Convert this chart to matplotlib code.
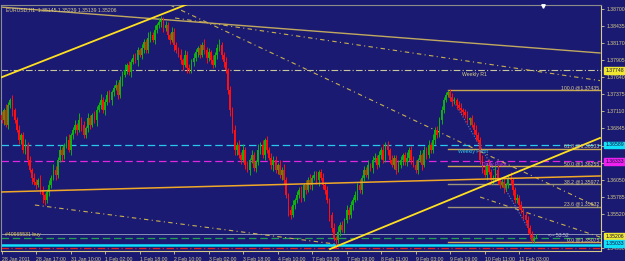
import matplotlib
matplotlib.use("Agg")
import matplotlib.pyplot as plt
from matplotlib import font_manager

# EURUSD H1 candles, 28 Jan 2011 .. 11 Feb 2011
first_open = 1.3705
closes = [
    1.3698, 1.3713, 1.3690, 1.3721, 1.3729,
    1.3713, 1.3698, 1.3682, 1.3667, 1.3674, 1.3651,
    1.3659, 1.3636, 1.3620, 1.3608, 1.3601,
    1.3597, 1.3604, 1.3589, 1.3581, 1.3573, 1.3586, 1.3597,
    1.3608, 1.3620, 1.3612, 1.3636, 1.3651, 1.3643,
    1.3659, 1.3667, 1.3651, 1.3674, 1.3682, 1.3690,
    1.3682, 1.3698, 1.3690, 1.3674, 1.3685, 1.3700,
    1.3690, 1.3705, 1.3698, 1.3713, 1.3721, 1.3729,
    1.3713, 1.3726, 1.3737, 1.3729, 1.3741, 1.3747,
    1.3752, 1.3737, 1.3760, 1.3768, 1.3775, 1.3783,
    1.3772, 1.3788, 1.3794, 1.3791, 1.3806, 1.3799,
    1.3809, 1.3819, 1.3806, 1.3825, 1.3830, 1.3822,
    1.3837, 1.3845, 1.3850, 1.3853, 1.3840,
    1.3845, 1.3830, 1.3822, 1.3834, 1.3814, 1.3806, 1.3799,
    1.3791, 1.3783, 1.3799, 1.3778, 1.3775, 1.3788, 1.3794,
    1.3803, 1.3809, 1.3799, 1.3814, 1.3806, 1.3794, 1.3803,
    1.3791, 1.3783, 1.3799, 1.3809, 1.3814, 1.3799, 1.3788, 1.3775,
    1.3744, 1.3713, 1.3682, 1.3651, 1.3659, 1.3643,
    1.3636, 1.3651, 1.3628, 1.3620, 1.3636, 1.3643, 1.3623, 1.3632,
    1.3651, 1.3659, 1.3643, 1.3667, 1.3651, 1.3639, 1.3628,
    1.3636, 1.3620, 1.3628, 1.3612, 1.3620, 1.3604,
    1.3581, 1.3558, 1.3550, 1.3566, 1.3573,
    1.3581, 1.3589, 1.3577, 1.3597, 1.3589, 1.3604,
    1.3597, 1.3608, 1.3612, 1.3604, 1.3617, 1.3608,
    1.3597, 1.3589, 1.3573, 1.3550, 1.3530,
    1.3514, 1.3511, 1.3524, 1.3535, 1.3527,
    1.3542, 1.3558, 1.3550, 1.3566, 1.3573, 1.3581,
    1.3597, 1.3589, 1.3608, 1.3620, 1.3612, 1.3628,
    1.3623, 1.3636, 1.3639, 1.3628, 1.3643, 1.3651, 1.3636,
    1.3659, 1.3651, 1.3636, 1.3628, 1.3639, 1.3620,
    1.3628, 1.3636, 1.3643, 1.3632, 1.3639, 1.3651, 1.3636,
    1.3628, 1.3620, 1.3636, 1.3643, 1.3628, 1.3651,
    1.3643, 1.3659, 1.3651, 1.3667, 1.3682, 1.3674,
    1.3698, 1.3713, 1.3729, 1.3737, 1.3741,
    1.3732, 1.3726, 1.3729, 1.3721, 1.3716, 1.3713, 1.3710,
    1.3705, 1.3698, 1.3700, 1.3690, 1.3682, 1.3674, 1.3667,
    1.3636, 1.3620, 1.3612, 1.3628, 1.3617, 1.3604,
    1.3608, 1.3620, 1.3604, 1.3597, 1.3601, 1.3592,
    1.3597, 1.3608, 1.3604, 1.3589, 1.3573, 1.3577, 1.3566,
    1.3558, 1.3550, 1.3542, 1.3530, 1.3519, 1.3510, 1.35145, 1.35206,
]
# wick lengths above / below the body, in pips
upper_wick = [
    6, 4, 9, 5, 3, 7, 4, 5, 8, 3,
    5, 9, 4, 6, 3, 7, 5, 4, 8, 6,
    3, 5, 7, 4, 10, 6, 4, 8, 5, 3,
    6, 9, 4, 5, 7, 3, 11, 5, 6, 4,
    8, 5, 3, 7, 6, 4, 9, 5, 4, 6,
    7, 3, 5, 8, 4, 6, 5, 9, 3, 7,
    4, 6, 8, 5, 3, 7, 5, 4, 9, 6,
    5, 8, 4, 6, 6, 4, 7, 5, 3, 8,
    6, 4, 5, 9, 3, 7, 5, 6, 4, 8,
    5, 3, 7, 4, 9, 5, 6, 3, 8, 4,
    6, 10, 5, 4, 7, 3, 6, 5, 8, 4,
    7, 5, 9, 4, 6, 3, 8, 5, 4, 10,
    5, 7, 3, 6, 4, 8, 5, 6, 3, 7,
    4, 9, 5, 3, 6, 8, 4, 7, 5, 6,
    3, 8, 5, 9, 4, 6, 7, 3, 5, 8,
    4, 6, 3, 5, 7, 4, 9, 5, 6, 3,
    8, 4, 6, 5, 7, 3, 9, 4, 6, 5,
    7, 3, 5, 8, 4, 6, 5, 9, 4, 6,
    3, 7, 5, 4, 8, 6, 3, 5, 9, 4,
    6, 5, 7, 3, 8, 4, 6, 5, 7, 4,
    9, 5, 6, 4, 7, 5, 4, 2.5, 4, 7,
    5, 3, 6, 8, 4, 5, 7, 3, 6, 4,
    8, 5, 4, 7, 6, 3, 9, 5, 4, 6,
    7, 4, 5, 8, 3, 6, 9, 4, 5, 6,
    4, 6, 3, 5, 7, 4, 6, 3, 0.3,
]
lower_wick = [
    5, 8, 3, 6, 4, 9, 5, 3, 7, 6,
    4, 6, 8, 3, 9, 5, 7, 4, 6, 12,
    8, 4, 6, 5, 3, 7, 5, 4, 9, 6,
    5, 3, 7, 6, 4, 8, 3, 9, 5, 4,
    6, 7, 4, 5, 9, 3, 6, 4, 8, 5,
    4, 8, 6, 3, 7, 5, 9, 4, 6, 5,
    7, 4, 5, 9, 3, 6, 8, 4, 5, 7,
    3, 6, 5, 4, 8, 5, 4, 7, 6, 3,
    9, 5, 4, 6, 7, 3, 8, 5, 4, 6,
    4, 7, 5, 3, 6, 8, 4, 6, 5, 3,
    7, 4, 6, 8, 5, 6, 9, 5, 7, 8,
    5, 6, 4, 7, 3, 8, 5, 4, 6, 5,
    6, 4, 8, 5, 3, 6, 9, 4, 7, 5,
    8, 5, 4, 10, 6, 3, 7, 5, 4, 6,
    5, 7, 3, 6, 8, 4, 5, 9, 3, 6,
    7, 4, 9, 6, 5, 12, 4, 6, 3, 5,
    4, 6, 5, 8, 3, 7, 4, 6, 5, 3,
    6, 5, 8, 4, 7, 3, 6, 5, 4, 8,
    5, 4, 6, 7, 3, 5, 8, 4, 6, 5,
    7, 3, 5, 6, 4, 8, 3, 6, 5, 4,
    5, 6, 4, 3, 6, 5, 4, 3, 5, 6,
    4, 7, 3, 5, 6, 4, 5, 8, 3, 6,
    9, 4, 6, 5, 3, 7, 4, 6, 5, 4,
    6, 5, 3, 7, 4, 5, 6, 8, 4, 5,
    7, 5, 6, 4, 8, 3, 2.5, 4, 0.6,
]

time_labels = ["28 Jan 2011", "28 Jan 17:00", "31 Jan 10:00", "1 Feb 02:00",
               "1 Feb 18:00", "2 Feb 10:00", "3 Feb 02:00", "3 Feb 18:00",
               "4 Feb 10:00", "7 Feb 03:00", "7 Feb 19:00", "8 Feb 11:00",
               "9 Feb 03:00", "9 Feb 19:00", "10 Feb 11:00", "11 Feb 03:00"]
label_step = 16
price_ticks = [1.38700, 1.38435, 1.38170, 1.37905, 1.37640, 1.37375, 1.37110,
               1.36845, 1.36580, 1.36315, 1.36050, 1.35785, 1.35520, 1.35255, 1.34990]
# scale labels hidden under the coloured price boxes
hidden_ticks = [1.36580, 1.36315, 1.35255]

# horizontal levels
weekly_r1 = 1.37748
weekly_pivot = 1.36589
daily_pivot = 1.36333
bid_price = 1.35206
buy_order = 1.3514
cyan_level = 1.35033
red_level = 1.3499

# fibonacci retracement
fib_high = 1.37435
fib_low = 1.35075
fib_start_bar = 207
fib_levels = [100.0, 61.8, 50.0, 38.2, 23.6, 0.0]

# trend lines: (bar0, price0, bar1, price1)
trend_yellow_top = (-0.8, 1.3763, 87.3, 1.3879)
trend_tan_top = (-0.8, 1.38731, 277.5, 1.38017)
trend_dash_steep = (78.1, 1.38762, 277.5, 1.35610)
trend_dash_shallow = (80.4, 1.38560, 277.5, 1.37588)
trend_orange = (-0.8, 1.35858, 277.5, 1.36107)
trend_yellow_bottom = (152.3, 1.34973, 277.5, 1.36697)
trend_dash_low = (15.4, 1.35656, 154.6, 1.35050)
trend_dash_right = (221.9, 1.35780, 277.5, 1.35159)
trend_dotted = (208.0, 1.37365, 247.4, 1.35113)

BG = "#1a1a72"
AXC = "#d8cc8a"

names = {f.name for f in font_manager.fontManager.ttflist}
if "Liberation Sans Narrow" in names:
    FONT, FS = "Liberation Sans Narrow", 4.3
else:
    FONT, FS = "Liberation Sans", 3.7

opens = [first_open] + closes[:-1]
n = len(closes)
highs = [max(o, c) + u * 0.0001 for o, c, u in zip(opens, closes, upper_wick)]
lows = [min(o, c) - d * 0.0001 for o, c, d in zip(opens, closes, lower_wick)]

fig = plt.figure(figsize=(6.25, 2.61), dpi=100, facecolor=BG)
ax = fig.add_axes([1 / 625, 10 / 261, 600 / 625, 246 / 261], facecolor=BG)
ax.set_xlim(-0.32, 277.97)
ax.set_ylim(1.34942, 1.38762)

# horizontal levels
ax.axhline(weekly_r1, color="#c8c4a0", lw=0.8, ls=(0, (6, 2, 1, 2)), zorder=1)
ax.axhline(weekly_pivot, color="#28c8f0", lw=0.9, ls=(0, (6, 3)), zorder=1)
ax.axhline(daily_pivot, color="#e028e0", lw=0.9, ls=(0, (6, 3)), zorder=1)
ax.axhline(bid_price, color="#8890b8", lw=0.7, zorder=1)
ax.axhline(buy_order, color="#20a050", lw=0.9, ls=(0, (6, 3)), zorder=1)
ax.axhline(cyan_level, color="#10e0ff", lw=1.8, zorder=1)
ax.axhline(red_level, color="#e02020", lw=0.9, ls=(0, (6, 2, 1, 2)), zorder=1)

# fibonacci
for lev in fib_levels:
    p = fib_low + (fib_high - fib_low) * lev / 100
    col = "#a09478" if lev in (38.2, 23.6) else "#c8a850"
    ax.plot([fib_start_bar, 277.97], [p, p], color=col, lw=1, zorder=2)
    ax.text(277.0, p + 0.00008, f"{lev:.1f} @{p:.5f}", color="#d8c890",
            fontsize=FS, family=FONT, ha="right", va="bottom", zorder=5)

# trend lines
def tline(t, **kw):
    ax.plot([t[0], t[2]], [t[1], t[3]], **kw)

tline(trend_tan_top, color="#c0a860", lw=1, zorder=2)
tline(trend_dash_steep, color="#c8b050", lw=0.8, ls=(0, (4, 3, 1, 3)), zorder=2)
tline(trend_dash_shallow, color="#c8b050", lw=0.8, ls=(0, (4, 3, 1, 3)), zorder=2)
tline(trend_dash_low, color="#c8b050", lw=0.8, ls=(0, (4, 3, 1, 3)), zorder=2)
tline(trend_dash_right, color="#c8b050", lw=0.8, ls=(0, (4, 3, 1, 3)), zorder=2)
tline(trend_dotted, color="#6a7ab8", lw=0.8, ls=(0, (1, 1.5)), zorder=2)
tline(trend_orange, color="#f0a828", lw=1.1, zorder=4)
tline(trend_yellow_top, color="#ffe020", lw=1.3, zorder=4)
tline(trend_yellow_bottom, color="#ffe020", lw=1.3, zorder=4)

# candles
x = list(range(n))
cols = ["#10b010" if c >= o else "#ff1010" for o, c in zip(opens, closes)]
ax.vlines(x, lows, highs, colors=cols, lw=0.7, zorder=3)
bottoms = [min(o, c) for o, c in zip(opens, closes)]
heights = [max(abs(c - o), 0.00004) for o, c in zip(opens, closes)]
ax.bar(x, heights, bottom=bottoms, width=0.8, color=cols, lw=0, zorder=3)

# texts
ax.text(2, 1.38690, "EURUSD,H1  1.35145 1.35239 1.35139 1.35206", color=AXC,
        fontsize=FS, family=FONT, ha="left", va="center", zorder=6)
ax.text(213.5, 1.37685, "Weekly R1", color="#d8cc8a", fontsize=FS, family=FONT,
        ha="left", va="center", zorder=6)
ax.text(211.6, 1.36490, "Weekly Pivot", color="#30c8e8", fontsize=FS, family=FONT,
        ha="left", va="center", zorder=6)
ax.text(222.8, 1.36280, "Daily Pivot", color="#e040e0", fontsize=FS, family=FONT,
        ha="left", va="center", zorder=6)
ax.text(1.5, 1.35165, "#40965531 buy", color="#e8d040", fontsize=FS, family=FONT,
        ha="left", va="bottom", zorder=6)
ax.text(253.4, 1.35185, "<-- 53:52", color="#c8c8d8", fontsize=FS, family=FONT,
        ha="left", va="center", zorder=6)

# axes styling
ax.yaxis.tick_right()
ax.set_yticks(price_ticks)
ax.set_yticklabels(["" if p in hidden_ticks else f"{p:.5f}" for p in price_ticks])
ticks = [i * label_step for i in range(len(time_labels))]
ax.set_xticks(ticks)
ax.set_xticklabels(time_labels)
for lab in ax.get_xticklabels():
    lab.set_horizontalalignment("left")
ax.tick_params(axis="both", colors=AXC, labelsize=FS, length=2.5, width=0.6,
               pad=1.5, direction="out")
for lab in ax.get_xticklabels() + ax.get_yticklabels():
    lab.set_family(FONT)
ax.spines["right"].set_color(AXC)
ax.spines["bottom"].set_color(AXC)
ax.spines["top"].set_color("#8c8c8c")
ax.spines["left"].set_color("#8c8c8c")
for s in ax.spines.values():
    s.set_linewidth(0.8)

# coloured price boxes on the scale: (value, colour, vertical nudge in points)
boxes = [(weekly_r1, "#f0e830", 0), (weekly_pivot, "#10e0f8", 0),
         (daily_pivot, "#f020f0", 0), (bid_price, "#f0e830", -1.5),
         (cyan_level, "#10e0f8", 1.2)]
for p, c, dy in boxes:
    ax.annotate(f"{p:.5f}", xy=(1.0, p), xycoords=("axes fraction", "data"),
                xytext=(3, dy), textcoords="offset points", ha="left", va="center",
                fontsize=FS, family=FONT, color="#101040",
                bbox=dict(boxstyle="square,pad=0.15", fc=c, ec=c), zorder=7,
                annotation_clip=False)

# shift marker at the top
ax.plot([251], [1.38745], marker="v", color="white", ms=2.5, zorder=7, clip_on=False)

fig.savefig("out.png", dpi=100, facecolor=BG)
